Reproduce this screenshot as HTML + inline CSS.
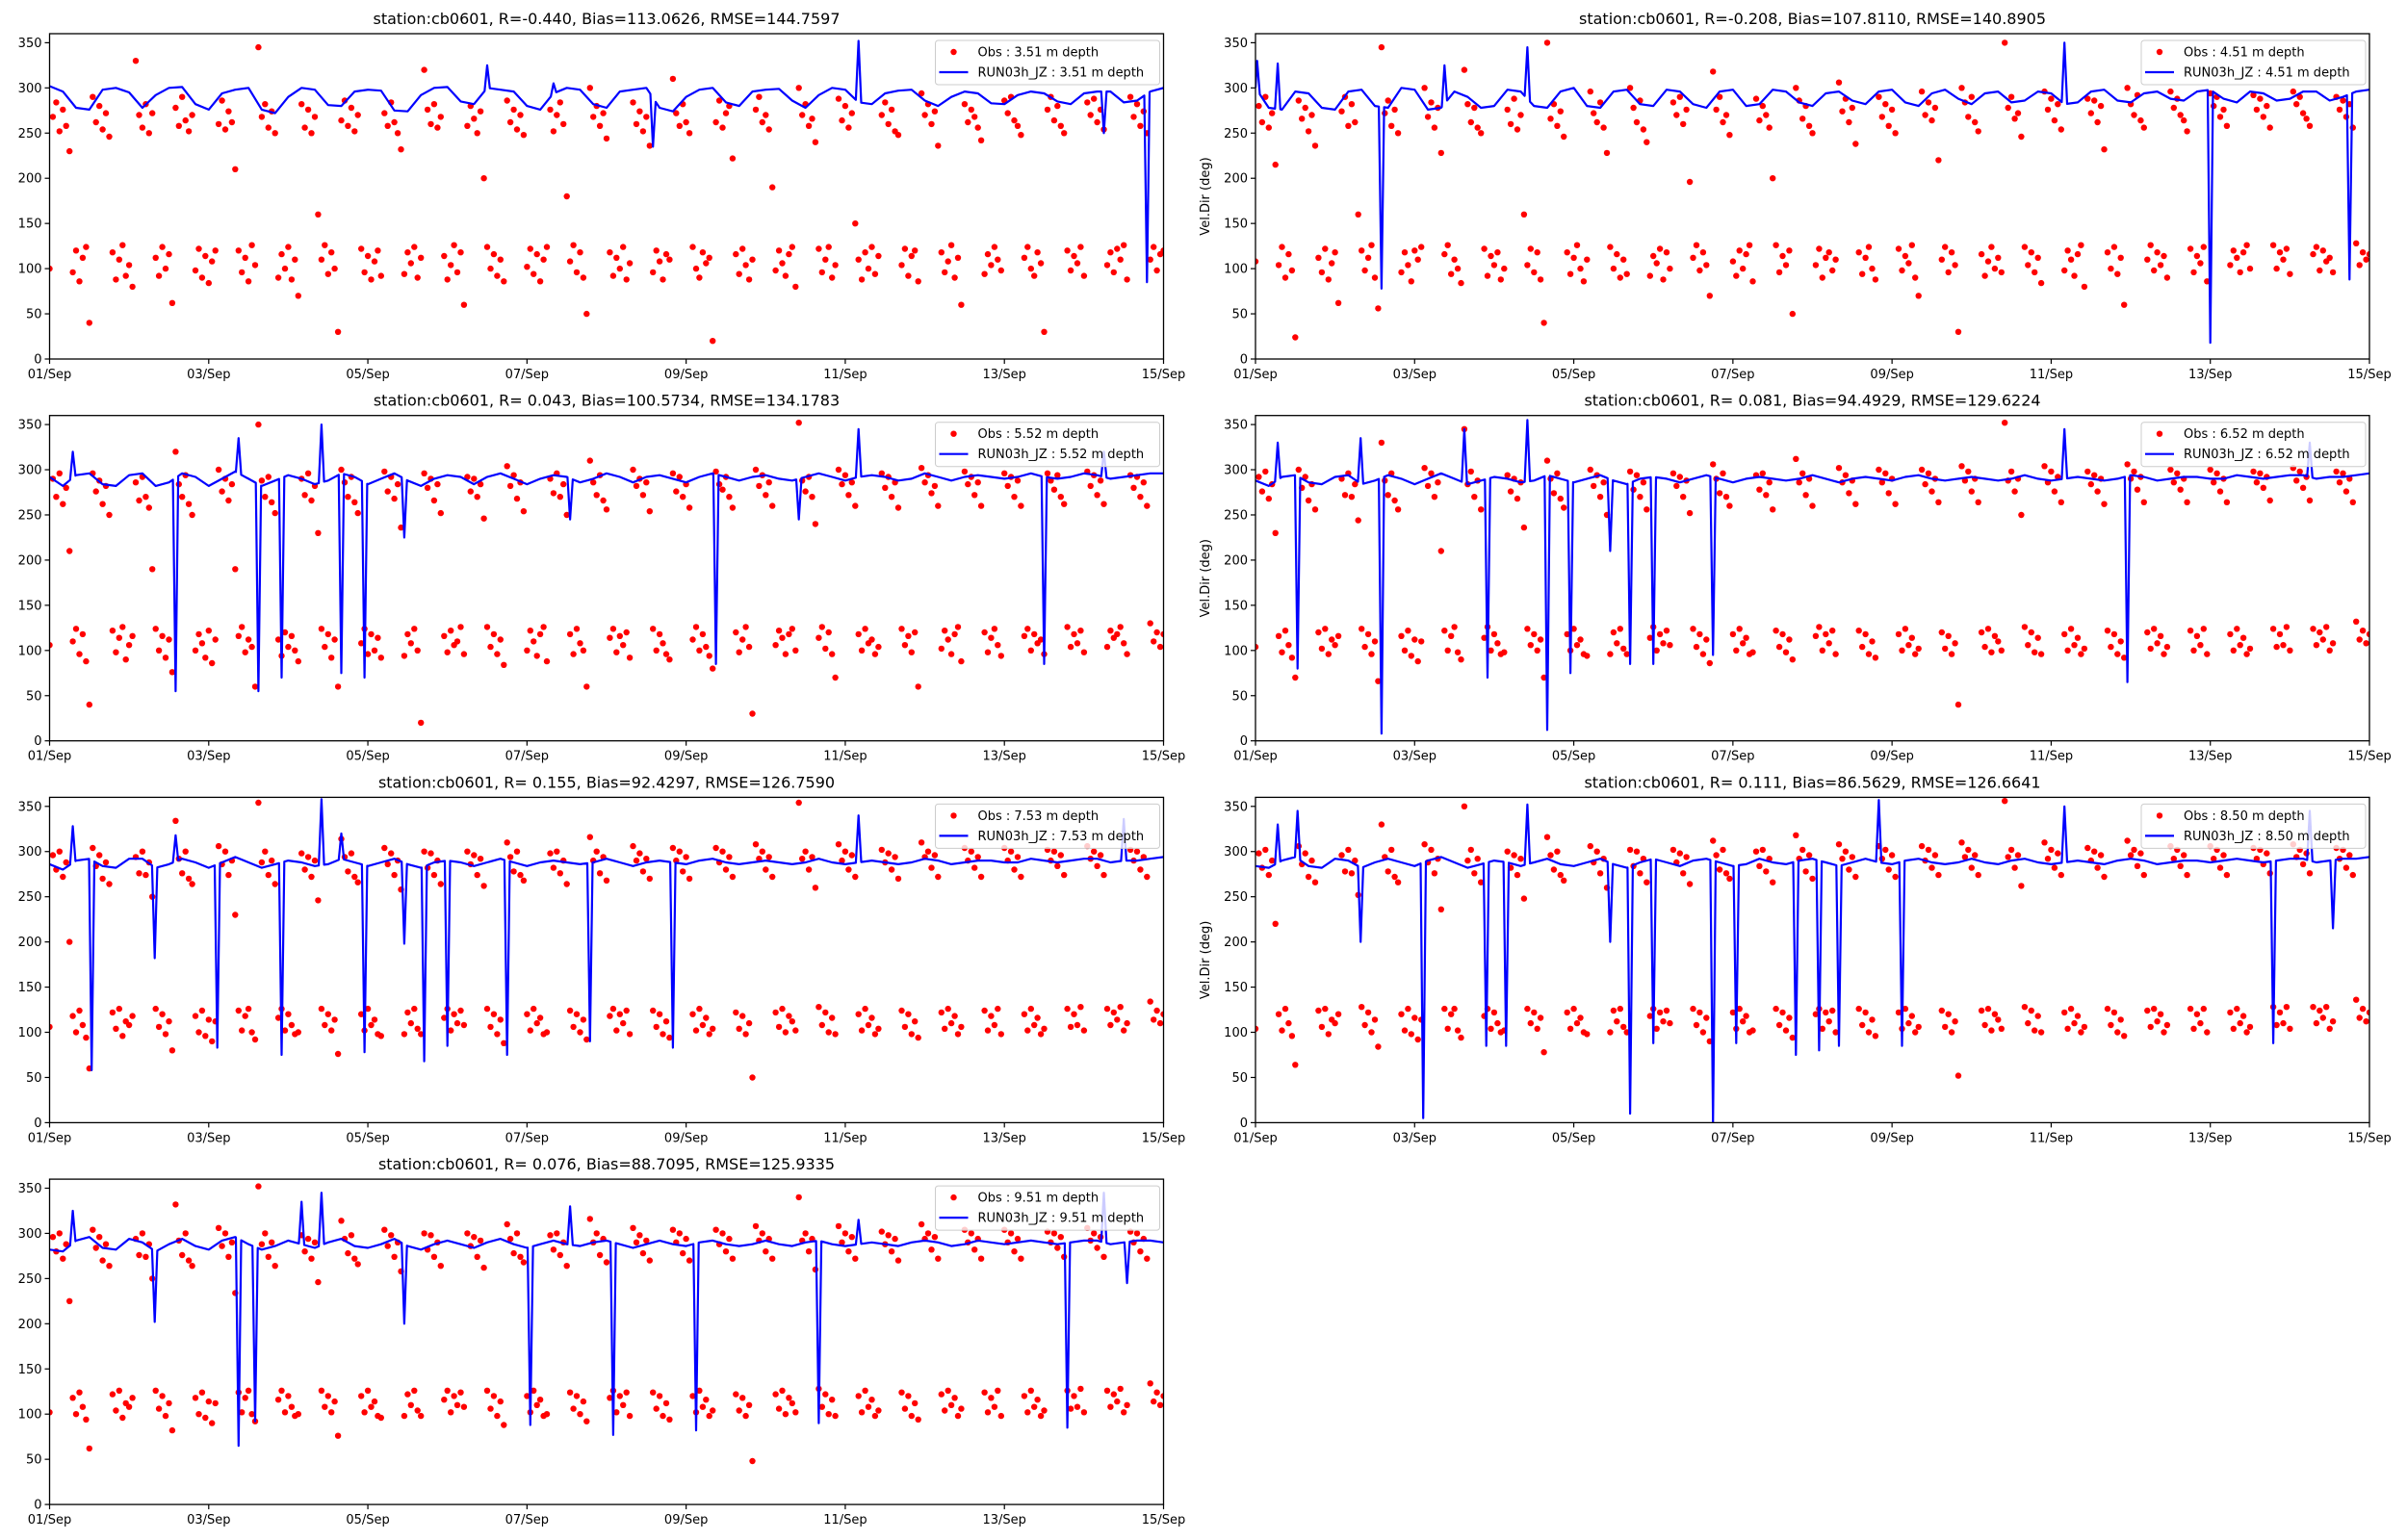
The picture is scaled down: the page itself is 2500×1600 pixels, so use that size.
<!DOCTYPE html>
<html><head><meta charset="utf-8"><title>cb0601 velocity direction</title>
<style>
html,body{margin:0;padding:0;background:#fff;}
svg{display:block;font-family:"DejaVu Sans","Liberation Sans",sans-serif;}
</style></head>
<body>
<svg id="fig" width="2500" height="1600" viewBox="0 0 2500 1600" xmlns="http://www.w3.org/2000/svg"></svg>
<script>
const titles = [
"station:cb0601, R=-0.440, Bias=113.0626, RMSE=144.7597",
"station:cb0601, R=-0.208, Bias=107.8110, RMSE=140.8905",
"station:cb0601, R= 0.043, Bias=100.5734, RMSE=134.1783",
"station:cb0601, R= 0.081, Bias=94.4929, RMSE=129.6224",
"station:cb0601, R= 0.155, Bias=92.4297, RMSE=126.7590",
"station:cb0601, R= 0.111, Bias=86.5629, RMSE=126.6641",
"station:cb0601, R= 0.076, Bias=88.7095, RMSE=125.9335"];
const depths = ["3.51","4.51","5.52","6.52","7.53","8.50","9.51"];
const xTickLabels = ["01/Sep","03/Sep","05/Sep","07/Sep","09/Sep","11/Sep","13/Sep","15/Sep"];
const xTickDays = [0,2,4,6,8,10,12,14];
const yTicks = [0,50,100,150,200,250,300,350];
const totalHours = 336;

// hourly observations (deg)
const obs1 = [100,
268,284,252,276,258,230,96,120,86,112,124,40,290,262,280,254,272,246,118,88,110,126,92,104,80,
330,270,256,282,250,272,112,92,124,100,116,62,278,258,290,264,252,270,98,122,90,114,84,108,120,
260,286,254,274,262,210,120,96,112,86,126,104,345,268,282,256,274,250,90,116,100,124,88,110,70,
282,256,276,250,268,160,110,126,94,118,100,30,264,286,258,278,252,270,122,96,114,88,108,120,92,
272,258,284,262,250,232,94,118,106,124,90,112,320,276,260,282,256,268,114,88,104,126,96,118,60,
258,280,266,250,274,200,124,100,116,92,110,86,286,262,276,254,270,248,102,122,94,116,86,110,124,
276,252,270,284,260,180,108,126,96,118,90,50,300,268,280,258,272,244,118,92,112,100,124,88,106,
284,260,274,252,268,236,96,120,108,88,116,110,310,272,258,282,262,250,124,100,90,118,106,112,20,
262,286,256,272,280,222,116,94,122,104,88,110,276,290,262,270,254,190,98,120,106,92,116,124,80,
300,270,282,258,266,240,122,96,110,124,90,104,288,264,280,256,272,150,110,88,118,100,124,94,114,
270,284,260,276,252,248,104,122,92,114,120,86,294,270,282,260,274,236,118,96,108,126,90,112,60,
282,262,276,268,256,242,94,116,104,124,110,98,286,272,290,264,258,248,112,124,100,92,118,106,30,
276,290,264,280,258,250,120,98,114,106,124,92,284,270,288,262,276,254,104,118,96,122,110,126,88,
290,268,282,258,274,250,110,124,98,116,120];
const obs2 = [108,
280,262,290,256,272,215,104,124,90,116,98,24,286,266,278,252,270,236,112,96,122,88,106,118,62,
274,290,258,282,262,160,120,98,112,126,90,56,345,272,286,258,276,250,96,118,104,86,120,110,124,
300,268,284,256,278,228,116,126,94,110,100,84,320,282,262,278,256,250,122,92,114,104,118,88,100,
276,260,288,254,270,160,104,122,96,118,88,40,350,266,282,258,274,246,118,94,112,126,100,86,110,
296,272,262,284,256,228,124,100,116,90,110,94,300,278,262,286,254,240,92,114,106,122,88,118,100,
284,270,290,260,276,196,112,126,98,118,104,70,318,276,290,262,270,248,108,92,120,100,116,126,86,
288,264,280,270,256,200,126,96,114,104,120,50,300,286,266,280,258,250,104,122,90,112,118,98,110,
306,274,288,262,278,238,118,94,112,124,100,88,290,268,282,258,276,250,122,98,114,106,126,90,70,
296,270,284,264,278,220,110,124,96,118,104,30,300,284,268,290,262,252,116,92,108,124,100,112,96,
350,278,290,266,272,246,124,104,118,96,112,84,296,276,288,264,282,254,98,120,110,92,116,126,80,
288,272,286,262,280,232,118,100,124,94,112,60,300,282,270,292,264,256,110,126,98,118,104,114,90,
296,278,288,270,264,252,122,96,114,106,124,86,294,280,290,268,276,258,104,120,112,96,118,126,100,
292,276,288,268,280,256,126,100,118,110,122,94,296,282,290,272,266,258,116,124,98,120,108,112,96,
290,276,286,268,282,256,128,104,118,110,116];
const obs3 = [106,
290,270,296,262,280,210,110,124,96,118,88,40,296,276,288,262,282,250,122,98,114,126,90,106,116,
286,266,292,270,258,190,124,100,116,92,112,76,320,284,270,294,262,250,100,118,108,92,122,86,112,
300,276,290,266,284,190,116,126,98,112,104,60,350,288,270,292,264,252,112,94,120,104,116,100,88,
290,272,296,266,282,230,124,104,118,92,112,60,300,286,270,292,264,252,108,124,96,118,100,114,92,
298,276,292,268,284,236,94,118,108,124,100,20,296,280,290,266,284,252,116,98,122,106,110,126,96,
292,276,290,270,284,246,126,104,118,96,112,84,304,282,294,268,286,254,100,122,110,94,118,126,88,
290,274,296,270,284,250,118,96,124,108,100,60,310,286,272,294,266,256,114,124,98,116,106,120,92,
300,282,290,272,286,254,124,100,118,108,96,90,296,276,292,270,284,258,112,126,100,118,104,94,80,
298,284,278,292,270,258,120,98,112,126,104,30,300,282,294,272,286,260,106,122,114,96,118,124,100,
352,288,276,292,270,240,114,126,102,120,96,70,300,284,294,272,286,260,118,100,124,108,112,96,104,
296,280,292,270,286,258,124,106,116,98,120,60,302,286,294,274,282,260,102,122,112,96,118,126,88,
298,284,292,272,286,260,120,98,114,124,106,94,296,282,292,270,288,260,116,124,100,118,108,112,96,
296,288,278,294,270,262,126,104,118,108,122,98,298,282,294,272,288,262,104,122,114,118,126,108,96,
294,280,292,270,286,260,130,110,120,104,118];
const obs4 = [104,
292,276,298,268,284,230,116,98,122,106,92,70,300,280,292,266,284,256,120,102,124,96,112,106,116,
290,272,296,270,284,244,124,104,118,96,110,66,330,288,272,296,266,256,116,100,122,94,112,88,110,
302,282,296,270,286,210,122,100,116,126,98,90,345,284,298,270,288,256,114,126,100,118,108,96,98,
294,276,290,268,286,236,124,106,118,100,112,70,310,290,274,296,268,258,118,100,124,106,112,96,94,
300,282,294,270,286,250,96,120,108,124,102,96,298,278,294,270,286,256,114,126,100,118,108,122,106,
296,282,292,270,288,252,124,104,118,96,112,86,306,290,274,296,270,260,118,100,124,108,114,96,98,
294,278,296,272,286,256,122,104,118,98,112,90,312,286,296,272,290,260,116,126,100,118,108,122,96,
302,286,294,274,288,262,122,104,118,96,110,92,300,286,296,274,290,262,118,100,124,106,114,96,102,
300,284,296,276,290,264,120,102,116,96,108,40,304,288,298,276,290,264,120,104,124,98,116,110,100,
352,288,298,276,290,250,126,106,120,98,114,96,304,286,298,276,292,264,118,100,124,106,114,96,102,
298,284,294,276,290,262,122,104,118,96,110,92,306,290,298,278,292,264,120,102,124,108,116,96,104,
300,286,296,278,290,264,122,100,116,106,124,96,300,286,296,276,290,264,118,100,124,106,114,96,102,
298,286,296,280,292,266,124,104,118,106,126,100,302,288,298,280,292,266,124,106,120,112,126,100,108,
298,286,296,276,290,264,132,112,122,108,118];
const obs5 = [106,
296,280,300,272,288,200,118,100,124,108,94,60,304,284,296,270,288,264,122,104,126,96,112,108,118,
294,276,300,274,288,250,126,106,120,98,112,80,334,292,276,300,270,264,118,100,124,96,114,90,112,
306,286,300,274,290,230,124,102,118,126,100,92,354,288,300,274,290,264,116,126,102,120,108,98,100,
298,280,294,272,290,246,126,108,120,102,114,76,314,294,278,298,272,266,120,102,126,108,114,98,96,
304,286,298,274,290,258,98,122,110,126,104,98,300,282,298,274,290,264,116,126,102,120,110,124,108,
300,286,296,274,292,262,126,106,120,98,114,88,310,294,278,300,274,268,120,102,126,110,116,98,100,
298,282,300,276,290,264,124,106,120,100,114,92,316,290,300,276,294,268,118,126,102,120,110,124,98,
306,290,298,278,292,270,124,106,120,98,112,94,304,290,300,278,294,270,120,102,126,108,116,98,104,
304,288,300,280,294,272,122,104,118,98,110,50,308,292,300,280,294,272,122,106,126,100,118,112,102,
354,292,300,280,294,260,128,108,122,100,116,98,308,290,300,280,296,272,120,102,126,108,116,98,104,
302,288,298,280,294,270,124,106,120,98,112,94,310,294,300,282,296,272,122,104,126,110,118,98,106,
304,290,300,282,294,272,124,102,118,108,126,98,304,290,300,280,294,272,120,102,126,108,116,98,104,
302,290,300,284,296,274,126,106,120,108,128,102,306,292,300,284,296,274,126,108,122,114,128,102,110,
302,290,300,280,294,272,134,114,124,110,120];
const obs6 = [104,
298,282,302,274,290,220,120,102,126,110,96,64,306,286,298,272,290,266,124,106,126,98,114,110,120,
296,278,302,276,290,252,128,108,122,100,114,84,330,294,278,302,272,266,120,102,126,98,116,92,114,
308,288,302,276,292,236,126,104,120,126,102,94,350,290,302,276,292,266,118,126,104,122,110,100,102,
300,282,296,274,292,248,126,110,122,104,116,78,316,296,280,300,274,268,122,104,126,110,116,100,98,
306,288,300,276,292,260,100,124,112,126,106,100,302,284,300,276,292,266,118,126,104,122,112,124,110,
302,288,298,276,294,264,126,108,122,100,116,90,312,296,280,302,276,270,122,104,126,112,118,100,102,
300,284,302,278,292,266,126,108,122,102,116,94,318,292,302,278,296,270,120,126,104,122,112,124,100,
308,292,300,280,294,272,126,108,122,100,114,96,306,292,302,280,296,272,122,104,126,110,118,100,106,
306,290,302,282,296,274,124,106,120,100,112,52,310,294,302,282,296,274,124,108,126,102,120,114,104,
356,294,302,282,296,262,128,110,124,102,118,100,310,292,302,282,298,274,122,104,126,110,118,100,106,
304,290,300,282,296,272,126,108,122,100,114,96,312,296,302,284,298,274,124,106,126,112,120,100,108,
306,292,302,284,296,274,126,104,120,110,126,100,306,292,302,282,296,274,122,104,126,110,118,100,106,
304,292,302,286,298,276,128,108,122,110,128,104,308,294,302,286,298,276,128,110,124,116,128,104,112,
304,292,302,282,296,274,136,116,126,112,122];
const obs7 = [102,
296,280,300,272,288,225,118,100,124,108,94,62,304,284,296,270,288,264,122,104,126,96,112,108,118,
294,276,300,274,288,250,126,106,120,98,112,82,332,292,276,300,270,264,118,100,124,96,114,90,112,
306,286,300,274,290,234,124,102,118,126,100,92,352,288,300,274,290,264,116,126,102,120,108,98,100,
298,280,294,272,290,246,126,108,120,102,114,76,314,294,278,298,272,266,120,102,126,108,114,98,96,
304,286,298,274,290,258,98,122,110,126,104,98,300,282,298,274,290,264,116,126,102,120,110,124,108,
300,286,296,274,292,262,126,106,120,98,114,88,310,294,278,300,274,268,120,102,126,110,116,98,100,
298,282,300,276,290,264,124,106,120,100,114,92,316,290,300,276,294,268,118,126,102,120,110,124,98,
306,290,298,278,292,270,124,106,120,98,112,94,304,290,300,278,294,270,120,102,126,108,116,98,104,
304,288,300,280,294,272,122,104,118,98,110,48,308,292,300,280,294,272,122,106,126,100,118,112,102,
340,292,300,280,294,260,128,108,122,100,116,98,308,290,300,280,296,272,120,102,126,108,116,98,104,
302,288,298,280,294,270,124,106,120,98,112,94,310,294,300,282,296,272,122,104,126,110,118,98,106,
304,290,300,282,294,272,124,102,118,108,126,98,304,290,300,280,294,272,120,102,126,108,116,98,104,
302,290,300,284,296,274,126,106,120,108,128,102,306,292,300,284,296,274,126,108,122,114,128,102,110,
302,290,300,280,294,272,134,114,124,110,120];

// model baseline every 4 hours (deg)
const modelBase1 = [302,296,278,276,298,300,295,278,292,300,301,282,276,294,298,300,276,272,290,300,298,281,280,296,298,297,275,274,292,300,301,285,282,300,298,296,280,276,294,300,298,282,278,296,298,300,278,274,290,298,300,284,280,296,298,299,286,278,292,300,298,284,282,294,297,298,286,280,290,296,294,283,282,292,296,294,285,282,294,296,296,284,286,296,300];
const modelBase2 = [300,278,276,296,294,278,276,296,298,280,278,300,298,276,278,296,290,278,280,298,296,280,278,296,300,280,278,296,298,282,280,298,296,282,278,296,298,280,282,298,296,284,280,294,296,286,282,296,298,284,280,294,298,288,282,294,296,284,286,296,294,282,284,296,298,286,284,294,296,288,286,296,298,288,284,296,294,286,288,296,296,286,290,296,298];
const modelBase3 = [292,282,294,296,284,282,294,296,282,286,296,292,282,290,298,290,282,288,294,290,284,288,296,292,284,290,296,288,282,290,294,292,284,292,296,290,284,290,294,292,286,290,296,292,286,292,294,290,286,292,296,292,288,292,294,290,288,292,296,292,288,292,294,292,288,290,296,292,288,292,294,292,290,292,296,292,290,292,296,294,290,292,294,296,296];
const modelBase4 = [288,282,292,294,286,284,292,294,284,288,294,290,284,290,296,290,284,288,292,290,286,288,294,290,286,290,294,288,284,290,292,290,286,290,294,290,286,290,292,290,288,290,294,290,286,290,292,290,288,292,294,290,288,290,292,290,288,290,294,290,288,290,292,290,288,290,294,292,288,290,292,292,290,290,294,292,290,292,294,294,290,292,292,294,296];
const modelBase5 = [286,280,290,292,284,282,292,292,282,286,292,288,282,288,294,288,282,286,290,288,284,286,292,288,284,288,292,286,282,288,290,288,284,288,292,288,284,288,290,288,286,288,292,288,284,288,290,288,286,290,292,288,286,288,290,288,286,288,292,288,286,288,290,288,286,288,292,290,286,288,290,290,288,288,292,290,288,290,292,292,288,290,290,292,294];
const modelBase6 = [284,282,290,294,284,282,292,290,282,288,292,288,284,290,294,288,282,286,290,288,284,288,292,286,284,288,292,286,282,288,292,288,284,290,292,288,284,286,292,288,286,290,292,288,284,288,292,288,286,290,292,288,286,288,292,288,286,290,292,288,286,288,290,288,286,290,292,290,286,288,290,290,288,290,292,290,288,290,292,292,288,290,292,292,294];
const modelBase7 = [282,280,292,296,284,282,294,290,280,288,294,286,282,292,296,288,282,286,292,288,284,290,294,286,284,288,294,286,282,288,292,288,284,290,294,288,284,288,292,288,286,290,292,288,284,288,292,288,286,290,292,288,286,288,292,288,286,290,292,288,286,288,290,288,286,290,292,290,286,288,292,290,288,290,292,290,288,290,292,292,288,290,292,292,290];

// model spikes: [hour, value]
const spikes1 = [[132,325],[152,305],[182,235],[244,352],[318,250],[331,85]];
const spikes2 = [[0.5,330],[6.7,327],[38,78],[57,325],[82,345],[244,350],[288,18],[330,88]];
const spikes3 = [[7,320],[38,55],[57,335],[63,55],[70,70],[82,350],[88,75],[95,70],[107,225],[157,245],[201,85],[226,245],[244,345],[300,85],[318,320]];
const spikes4 = [[6.7,330],[12.7,80],[31.7,335],[38,8],[63,345],[70,70],[82,355],[88,12],[95,75],[107,210],[113,85],[120,85],[138,95],[244,345],[263,65],[318,330]];
const spikes5 = [[7,328],[12.7,58],[31.7,182],[38,318],[50.6,83],[70,75],[82,358],[88,320],[95,78],[107,198],[113,68],[120,85],[138,75],[163,90],[188,83],[244,340],[324,336]];
const spikes6 = [[6.7,330],[12.7,345],[31.7,200],[50.6,5],[69.6,85],[75.6,85],[82,352],[107,200],[113,10],[120,88],[138,0],[145,88],[163,75],[170,80],[176,85],[188,357],[195,85],[244,350],[307,88],[318,345],[325,215]];
const spikes7 = [[7,325],[31.7,202],[57,65],[62,92],[76,335],[82,345],[107,200],[145,88],[157,330],[170,77],[195,82],[232,90],[244,315],[307,85],[318,345],[325,245]];

const obsAll = [obs1,obs2,obs3,obs4,obs5,obs6,obs7];
const baseAll = [modelBase1,modelBase2,modelBase3,modelBase4,modelBase5,modelBase6,modelBase7];
const spikeAll = [spikes1,spikes2,spikes3,spikes4,spikes5,spikes6,spikes7];

const NS = "http://www.w3.org/2000/svg";
const svg = document.getElementById('fig');
function mk(tag, attrs, parent){
  const e = document.createElementNS(NS, tag);
  for (const k in attrs) e.setAttribute(k, attrs[k]);
  (parent||svg).appendChild(e);
  return e;
}
const AX_W = 1157, AX_H = 338;
const colX = [51.5, 1304];
const rowY = [35, 431.7, 828.4, 1225.1];

function drawPanel(p){
  const col = p % 2, row = Math.floor(p/2);
  const x0 = colX[col], y0 = rowY[row];
  const xs = h => x0 + h / totalHours * AX_W;
  const ys = v => y0 + AX_H - v / 360 * AX_H;
  const g = mk('g', {});
  
  
  const cp = mk('clipPath', {id:'clip'+p}, g);
  mk('rect', {x:x0, y:y0, width:AX_W, height:AX_H}, cp);
  const t = mk('text', {x:x0+AX_W/2, y:y0-10, 'text-anchor':'middle', 'font-size':'16', 'xml:space':'preserve'}, g);
  t.textContent = titles[p];
  
  
  const og = mk('g', {'clip-path':'url(#clip'+p+')', fill:'#ff0000'}, g);
  
  
  const obs = obsAll[p];
  for (let i = 0; i < obs.length; i++){
    const c = mk('circle', {cx:xs(i).toFixed(1), cy:ys(obs[i]).toFixed(1), r:3.2}, og);
    
    
  }
  const base = baseAll[p];
  const step = totalHours / (base.length - 1);
  const baseAt = h => { const k = Math.min(base.length-2, Math.max(0, Math.floor(h/step))); const f = h/step - k; return base[k] + (base[k+1]-base[k])*f; };
  let pts = base.map((v,i) => [i*step, v]);
  spikeAll[p].forEach(s => {
    pts = pts.filter(q => Math.abs(q[0]-s[0]) > 0.8);
    pts.push([Math.max(0,s[0]-0.8), baseAt(Math.max(0,s[0]-0.8))], [s[0], s[1]], [Math.min(totalHours,s[0]+0.8), baseAt(Math.min(totalHours,s[0]+0.8))]);
  });
  pts.sort((a,b) => a[0]-b[0]);
  const line = mk('polyline', {points: pts.map(q => xs(q[0]).toFixed(1)+','+ys(q[1]).toFixed(1)).join(' '), fill:'none', stroke:'#0000ff', 'stroke-width':2.2, 'stroke-linejoin':'round', 'clip-path':'url(#clip'+p+')'}, g);
  
  
  const fr = mk('rect', {x:x0, y:y0, width:AX_W, height:AX_H, fill:'none', stroke:'#000', 'stroke-width':1.3}, g);
  
  
  yTicks.forEach(v => {
    mk('line', {x1:x0-5, x2:x0, y1:ys(v), y2:ys(v), stroke:'#000', 'stroke-width':1.2}, g);
    const tl = mk('text', {x:x0-8, y:ys(v)+4.5, 'text-anchor':'end', 'font-size':'13'}, g);
    tl.textContent = v;
    
    
  });
  xTickDays.forEach((d, i) => {
    const x = xs(d*24);
    mk('line', {x1:x, x2:x, y1:y0+AX_H, y2:y0+AX_H+5, stroke:'#000', 'stroke-width':1.2}, g);
    const tl = mk('text', {x:x, y:y0+AX_H+20, 'text-anchor':'middle', 'font-size':'13'}, g);
    tl.textContent = xTickLabels[i];
    
    
  });
  if (col === 1){
    const cy = y0 + AX_H/2;
    const yl = mk('text', {x:x0-48, y:cy, 'text-anchor':'middle', 'font-size':'13', transform:'rotate(-90 '+(x0-48)+' '+cy+')'}, g);
    yl.textContent = 'Vel.Dir (deg)';
    
    
  }
  const lx = x0 + AX_W - 237, ly = y0 + 7;
  const lg = mk('g', {}, g);
  
  
  mk('rect', {x:lx, y:ly, width:233, height:46, rx:3, fill:'#fff', 'fill-opacity':0.8, stroke:'#cccccc', 'stroke-width':1}, lg);
  mk('circle', {cx:lx+19, cy:ly+12, r:3.2, fill:'#ff0000'}, lg);
  const l1 = mk('text', {x:lx+44, y:ly+16.5, 'font-size':'13'}, lg);
  l1.textContent = 'Obs : ' + depths[p] + ' m depth';
  
  
  mk('line', {x1:lx+4, x2:lx+34, y1:ly+33, y2:ly+33, stroke:'#0000ff', 'stroke-width':2.2}, lg);
  const l2 = mk('text', {x:lx+44, y:ly+37.5, 'font-size':'13'}, lg);
  l2.textContent = 'RUN03h_JZ : ' + depths[p] + ' m depth';
  
  
}
for (let p = 0; p < 7; p++) drawPanel(p);
</script>
</body></html>
